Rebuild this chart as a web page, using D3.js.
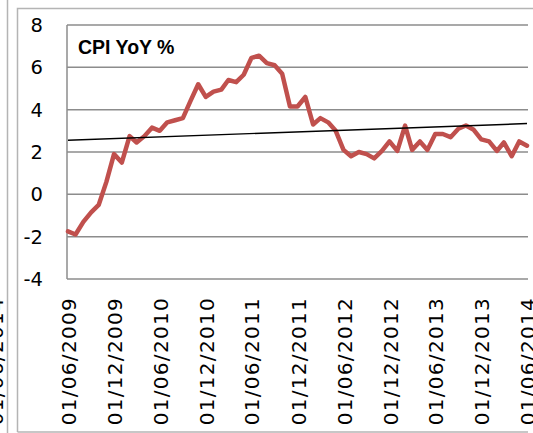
<!DOCTYPE html>
<html>
<head>
<meta charset="utf-8">
<script src="https://cdnjs.cloudflare.com/ajax/libs/d3/7.8.5/d3.min.js"></script>
<style>
    body { margin: 0; background: #fff; }
    .tick-label { font-family: "DejaVu Sans", Verdana, sans-serif; font-size: 19.5px; fill: #000; }
    .date-label { font-family: "DejaVu Sans", Verdana, sans-serif; font-size: 20px; letter-spacing: 1.3px; fill: #000; }
    .title { font-family: "Liberation Sans", Arial, sans-serif; font-weight: bold; font-size: 19.5px; fill: #000; }
</style>
</head>
<body>
<div id="chart"></div>
<script>
// monthly CPI YoY %, first value is 01/06/2009
const startMonth = "2009-06-01";
const cpiValues = [
    -1.75, -1.9, -1.3, -0.85, -0.5, 0.6, 1.9, 1.5, 2.75, 2.45,
    2.75, 3.15, 3.0, 3.4, 3.5, 3.6, 4.4, 5.2, 4.6, 4.85,
    4.95, 5.4, 5.3, 5.65, 6.45, 6.55, 6.2, 6.1, 5.7, 4.15,
    4.15, 4.6, 3.3, 3.6, 3.4, 3.0, 2.1, 1.8, 2.0, 1.9,
    1.7, 2.05, 2.5, 2.05, 3.25, 2.1, 2.5, 2.1, 2.85, 2.85,
    2.7, 3.1, 3.25, 3.05, 2.6, 2.5, 2.05, 2.45, 1.8, 2.5,
    2.3
];
const yTicks = [-4, -2, 0, 2, 4, 6, 8];
const dateTicks = ["01/06/2009", "01/12/2009", "01/06/2010", "01/12/2010", "01/06/2011",
    "01/12/2011", "01/06/2012", "01/12/2012", "01/06/2013", "01/12/2013", "01/06/2014"];
const titleText = "CPI YoY %";

const width = 533,
    height = 433;

const parseIso = d3.timeParse("%Y-%m-%d");
const parseLabel = d3.timeParse("%d/%m/%Y");

const start = parseIso(startMonth);
const data = cpiValues.map(function(v, i) {
    return { date: d3.timeMonth.offset(start, i), value: v };
});

const svg = d3.select("#chart").append("svg")
    .attr("width", width)
    .attr("height", height);

const x = d3.scaleTime()
    .domain([data[0].date, data[data.length - 1].date])
    .range([68, 527]);

const y = d3.scaleLinear()
    .domain([-4, 8])
    .range([279, 25]);

const plotLeft = 67,
    plotRight = 528;

// borders of this chart and the one to the left
svg.append("line")
    .attr("x1", 7.5).attr("x2", 7.5)
    .attr("y1", 0).attr("y2", height)
    .attr("stroke", "#b4b4b4").attr("stroke-width", 1.5);

svg.append("path")
    .attr("d", "M" + width + ",8.5H17.5V432")
    .attr("fill", "none")
    .attr("stroke", "#b4b4b4").attr("stroke-width", 1.5);

svg.append("line")
    .attr("x1", 17.5).attr("x2", 528)
    .attr("y1", 432).attr("y2", 432)
    .attr("stroke", "#b4b4b4").attr("stroke-width", 1.5);

// last label of the neighbouring chart, cut by the edge
svg.append("text")
    .attr("class", "date-label")
    .attr("transform", "translate(-4,297) rotate(-90)")
    .attr("dy", "0.35em")
    .attr("text-anchor", "end")
    .text(dateTicks[dateTicks.length - 1]);

// gridlines
svg.append("g")
    .selectAll("line")
    .data(yTicks)
    .enter().append("line")
    .attr("x1", plotLeft)
    .attr("x2", plotRight)
    .attr("y1", function(d) { return y(d); })
    .attr("y2", function(d) { return y(d); })
    .attr("stroke", "#8c8c8c")
    .attr("stroke-width", 1.5);

svg.append("line")
    .attr("x1", plotLeft).attr("x2", plotLeft)
    .attr("y1", y(8)).attr("y2", y(-4))
    .attr("stroke", "#8c8c8c")
    .attr("stroke-width", 1.5);

// y labels
svg.append("g")
    .selectAll("text")
    .data(yTicks)
    .enter().append("text")
    .attr("class", "tick-label")
    .attr("x", 43)
    .attr("y", function(d) { return y(d); })
    .attr("dy", "0.36em")
    .attr("text-anchor", "end")
    .text(function(d) { return d; });

// x labels, rotated
svg.append("g")
    .selectAll("text")
    .data(dateTicks)
    .enter().append("text")
    .attr("class", "date-label")
    .attr("transform", function(d) {
        return "translate(" + (x(parseLabel(d)) + 1) + ",297) rotate(-90)";
    })
    .attr("dy", "0.35em")
    .attr("text-anchor", "end")
    .text(function(d) { return d; });

// linear trend (least squares, like the excel trendline)
const n = data.length;
const meanI = d3.mean(data, function(d, i) { return i; });
const meanV = d3.mean(data, function(d) { return d.value; });
let sxy = 0, sxx = 0;
data.forEach(function(d, i) {
    sxy += (i - meanI) * (d.value - meanV);
    sxx += (i - meanI) * (i - meanI);
});
const slope = sxy / sxx;
const trend = [0, n - 1].map(function(i) {
    return { date: data[i].date, value: meanV + slope * (i - meanI) };
});

const line = d3.line()
    .x(function(d) { return x(d.date); })
    .y(function(d) { return y(d.value); });

svg.append("path")
    .datum(data)
    .attr("d", line)
    .attr("fill", "none")
    .attr("stroke", "#c0504d")
    .attr("stroke-width", 4.5)
    .attr("stroke-linejoin", "round")
    .attr("stroke-linecap", "round");

svg.append("path")
    .datum(trend)
    .attr("d", line)
    .attr("fill", "none")
    .attr("stroke", "#000")
    .attr("stroke-width", 1.4);

svg.append("text")
    .attr("class", "title")
    .attr("x", 78)
    .attr("y", 54)
    .text(titleText);
</script>
</body>
</html>
